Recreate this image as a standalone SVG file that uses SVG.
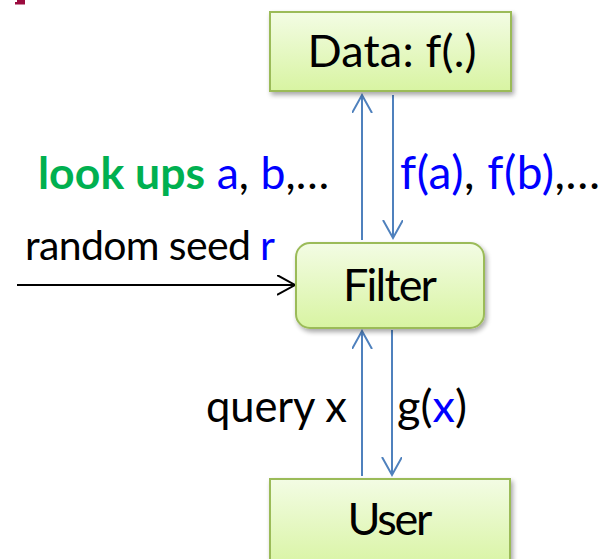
<svg xmlns="http://www.w3.org/2000/svg" width="601" height="559" viewBox="0 0 601 559">
  <style>
    .box { stroke: #9BBB59; stroke-width: 2; fill: url(#boxFill); filter: url(#shadow); }
    .lbl { font-family: Lato, "Liberation Sans", sans-serif; fill: #000; }
    .big { font-family: Lato, "Liberation Sans", sans-serif; font-size: 45px; fill: #000; text-anchor: middle; }
    .blue { fill: #0000FF; }
    .green { fill: #00B050; font-weight: bold; }
    .link { stroke: #4F81BD; stroke-width: 2; fill: none; }
  </style>
  <defs>
    <linearGradient id="boxFill" x1="0" y1="0" x2="0" y2="1">
      <stop offset="0" stop-color="#F3FCE4"/>
      <stop offset="1" stop-color="#D8F4A2"/>
    </linearGradient>
    <filter id="shadow" x="-10%" y="-10%" width="125%" height="135%">
      <feGaussianBlur in="SourceAlpha" stdDeviation="2.5"/>
      <feOffset dx="2" dy="3" result="b"/>
      <feComponentTransfer><feFuncA type="linear" slope="0.35"/></feComponentTransfer>
      <feMerge><feMergeNode/><feMergeNode in="SourceGraphic"/></feMerge>
    </filter>
    <marker id="openBlue" markerWidth="24" markerHeight="24" refX="18" refY="10" orient="auto" markerUnits="userSpaceOnUse">
      <path d="M0,0 L18,10 L0,20" fill="none" stroke="#4F81BD" stroke-width="2"/>
    </marker>
    <marker id="openBlack" markerWidth="24" markerHeight="24" refX="18" refY="10" orient="auto" markerUnits="userSpaceOnUse">
      <path d="M0,0 L18,10 L0,20" fill="none" stroke="#000" stroke-width="2"/>
    </marker>
  </defs>

  <rect width="601" height="559" fill="#FFFFFF"/>

  <!-- corner mark -->
  <path d="M17,0 H25 V4.5 H15 V2 H17 Z" fill="#9B0B3E"/>

  <!-- connectors -->
  <g id="connectors">
    <line class="link" x1="362" y1="240" x2="362" y2="95" marker-end="url(#openBlue)"/>
    <line class="link" x1="393" y1="95" x2="393" y2="238" marker-end="url(#openBlue)"/>
    <line class="link" x1="362" y1="476" x2="362" y2="331" marker-end="url(#openBlue)"/>
    <line class="link" x1="392" y1="330" x2="392" y2="475" marker-end="url(#openBlue)"/>
    <line x1="17" y1="285" x2="295" y2="285" stroke="#000" stroke-width="2" marker-end="url(#openBlack)"/>
  </g>

  <!-- nodes -->
  <g id="data">
    <rect class="box" x="270" y="12" width="241" height="79"/>
    <text class="big" x="392" y="67" textLength="169">Data: f(.)</text>
  </g>
  <g id="filter">
    <rect class="box" x="296" y="243" width="188" height="85" rx="14" ry="14"/>
    <text class="big" x="390" y="301" textLength="94">Filter</text>
  </g>
  <g id="user">
    <rect class="box" x="270" y="479" width="240" height="90"/>
    <text class="big" x="390" y="535" textLength="85">User</text>
  </g>

  <!-- labels -->
  <g id="labels">
    <text class="lbl" x="38" y="189" font-size="44.5" textLength="291"><tspan class="green">look ups</tspan> <tspan class="blue">a</tspan>, <tspan class="blue">b</tspan>,…</text>
    <text class="lbl" x="400" y="189" font-size="46" textLength="200"><tspan class="blue">f(a)</tspan>, <tspan class="blue">f(b)</tspan>,…</text>
    <text class="lbl" x="25" y="260" font-size="41" textLength="250">random seed <tspan class="blue">r</tspan></text>
    <text class="lbl" x="206" y="422" font-size="43.5" textLength="141">query x</text>
    <text class="lbl" x="397" y="422" font-size="45" textLength="70">g(<tspan class="blue">x</tspan>)</text>
  </g>
</svg>
